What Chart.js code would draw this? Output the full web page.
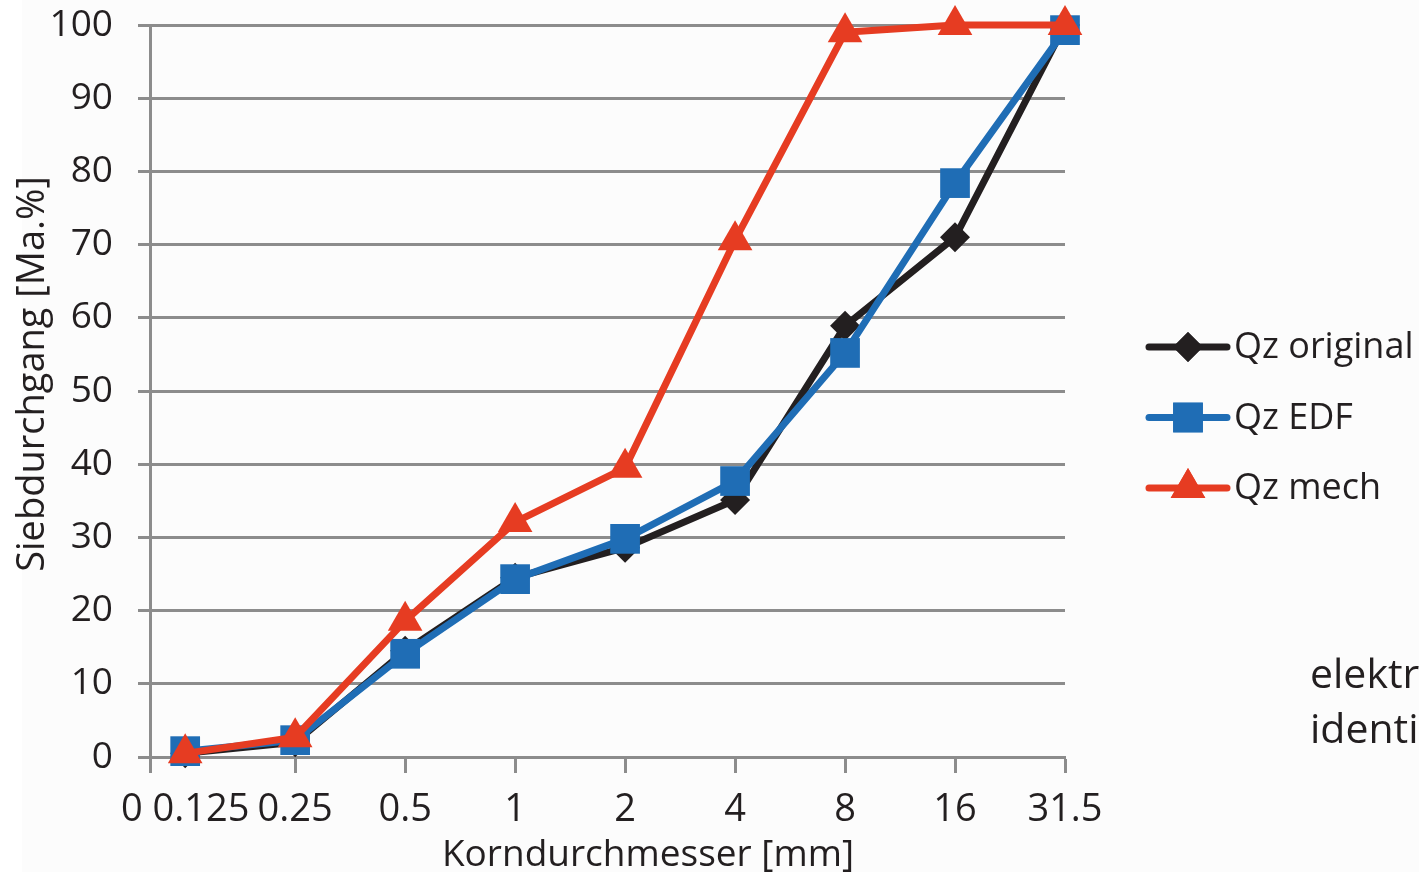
<!DOCTYPE html>
<html>
<head>
<meta charset="utf-8">
<title>Siebdurchgang</title>
<script src="https://cdn.jsdelivr.net/npm/chart.js@4.4.1/dist/chart.umd.min.js"></script>
<style>
  html, body { margin: 0; padding: 0; background: #ffffff; overflow: hidden; }
  #wrap { position: relative; width: 1419px; height: 875px; overflow: hidden; }
  #panel { position: absolute; left: 22px; top: 0; width: 1397px; height: 872px; background: #fcfcfc; }
  #c { position: absolute; left: 0; top: 0; }
  .note { position: absolute; left: 1310px; font-family: 'Open Sans', sans-serif; font-size: 41px;
          line-height: 1; color: #231f20; white-space: nowrap; }
</style>
</head>
<body>
<div id="wrap">
  <div id="panel"></div>
  <canvas id="c" width="1419" height="875"></canvas>
  <div class="note" style="top:652px">elektr</div>
  <div class="note" style="top:707px">identi</div>
</div>
<script>
// Sieve sizes (category labels along the x axis)
const sieveSizes = ['0 0.125', '0.25', '0.5', '1', '2', '4', '8', '16', '31.5'];
// Passing fraction in mass-% per sieve size
const qzOriginal = [0.5, 2.0, 14.5, 24.5, 28.6, 35.1, 58.9, 71.0, 100];
const qzEDF      = [0.8, 2.3, 14.1, 24.3, 29.8, 37.7, 55.2, 78.4, 99.3];
const qzMech     = [0.5, 2.7, 18.6, 32.1, 39.5, 70.6, 99.0, 100, 100];
const seriesNames = ['Qz original', 'Qz EDF', 'Qz mech'];
const yTicks = [0, 10, 20, 30, 40, 50, 60, 70, 80, 90, 100];

const TEXT = '#231f20';
const GRID = '#8c8c8c';
const FONT = "'Open Sans', sans-serif";

const toPoints = arr => arr.map((v, i) => ({ x: i, y: v }));

// Legend drawn at the right: line with marker, followed by the series name
const sideLegend = {
  id: 'sideLegend',
  afterDraw(chart) {
    const ctx = chart.ctx;
    chart.data.datasets.forEach((ds, i) => {
      const y = 347 + i * 70.5;
      ctx.save();
      ctx.strokeStyle = ds.borderColor;
      ctx.lineWidth = 7;
      ctx.lineCap = 'round';
      ctx.beginPath();
      ctx.moveTo(1149, y);
      ctx.lineTo(1227, y);
      ctx.stroke();
      const pt = { pointStyle: ds.pointStyle, rotation: 0, borderWidth: 0, radius: ds.pointRadius };
      ctx.fillStyle = ds.pointBackgroundColor;
      ctx.beginPath();
      Chart.helpers.drawPoint(ctx, pt, 1188, y);
      ctx.fill();
      ctx.fillStyle = TEXT;
      ctx.font = "36px " + FONT;
      ctx.textBaseline = 'middle';
      ctx.textAlign = 'left';
      ctx.fillText(ds.label, 1234, y + 1);
      ctx.restore();
    });
  }
};

// Axis titles placed by hand
const axisTitles = {
  id: 'axisTitles',
  afterDraw(chart) {
    const ctx = chart.ctx;
    ctx.save();
    ctx.fillStyle = TEXT;
    ctx.textAlign = 'center';
    ctx.textBaseline = 'middle';
    ctx.font = "37px " + FONT;
    ctx.fillText('Korndurchmesser [mm]', 648, 855);
    ctx.font = "38px " + FONT;
    ctx.translate(33, 374);
    ctx.rotate(-Math.PI / 2);
    ctx.fillText('Siebdurchgang [Ma.%]', 0, 0);
    ctx.restore();
  }
};

function lineSet(label, data, color, style, radius, order) {
  return {
    label,
    data: toPoints(data),
    borderColor: color,
    backgroundColor: color,
    pointBackgroundColor: color,
    pointBorderColor: color,
    pointBorderWidth: 0,
    pointStyle: style,
    pointRadius: radius,
    pointHoverRadius: radius,
    borderWidth: 7,
    borderJoinStyle: 'round',
    tension: 0,
    clip: false,
    order
  };
}

new Chart(document.getElementById('c'), {
  type: 'line',
  data: {
    datasets: [
      lineSet(seriesNames[0], qzOriginal, '#231f20', 'rectRot', 15, 3),
      lineSet(seriesNames[1], qzEDF, '#1f6db5', 'rect', 21, 2),
      lineSet(seriesNames[2], qzMech, '#e63c22', 'triangle', 20, 1)
    ]
  },
  options: {
    responsive: false,
    animation: false,
    devicePixelRatio: 1,
    layout: { padding: { left: 0, right: 354, top: 25, bottom: 0 } },
    plugins: { legend: { display: false }, tooltip: { enabled: false } },
    scales: {
      x: {
        type: 'linear',
        min: -0.32,
        max: 8,
        afterBuildTicks: s => { s.ticks = [-0.32, 0, 1, 2, 3, 4, 5, 6, 7, 8].map(v => ({ value: v })); },
        afterFit: s => { s.height = 118; s.paddingLeft = 0; s.paddingRight = 0; },
        ticks: {
          autoSkip: false,
          maxRotation: 0,
          padding: 14,
          color: TEXT,
          font: { family: FONT, size: 38 },
          callback: v => (v < 0 ? '' : sieveSizes[Math.round(v)])
        },
        grid: {
          drawOnChartArea: false,
          drawTicks: true,
          tickLength: 16,
          tickWidth: 3,
          tickColor: c => (c.tick && c.tick.value === 0 ? 'rgba(0,0,0,0)' : GRID)
        },
        border: { color: GRID, width: 3 }
      },
      y: {
        min: 0,
        max: 100,
        afterBuildTicks: s => { s.ticks = yTicks.map(v => ({ value: v })); },
        afterFit: s => { s.width = 150; s.paddingTop = 0; s.paddingBottom = 0; },
        ticks: {
          padding: 25,
          color: TEXT,
          font: { family: FONT, size: 37 }
        },
        grid: {
          color: GRID,
          lineWidth: 3,
          drawTicks: true,
          tickLength: 12
        },
        border: { color: GRID, width: 3 }
      }
    }
  },
  plugins: [axisTitles, sideLegend]
});
</script>
</body>
</html>
